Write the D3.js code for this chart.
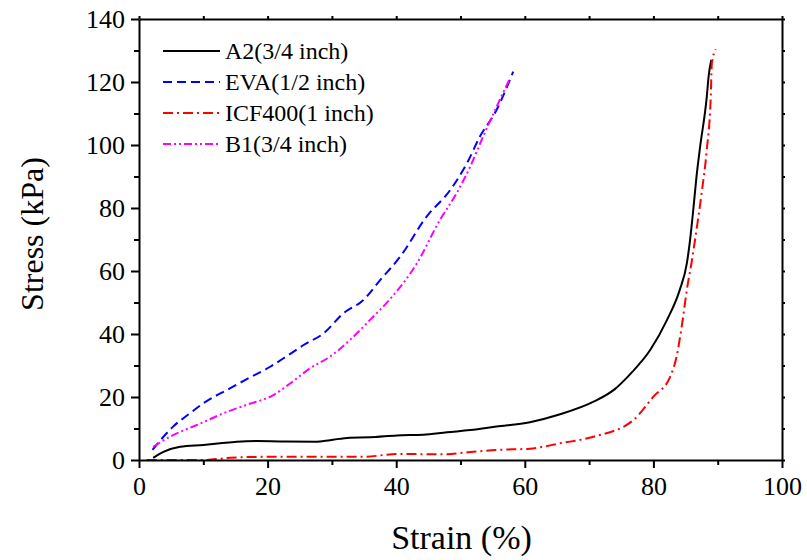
<!DOCTYPE html>
<html>
<head>
<meta charset="utf-8">
<script src="https://cdn.jsdelivr.net/npm/d3@7"></script>
<style>
  body { margin: 0; background: #fff; }
</style>
</head>
<body>
<div id="chart"></div>
<script>
// ---- data ----
const A2_STRAIN  = [2.2, 3.8, 6.4, 10, 12.6, 15.2, 18.3, 21.9, 27.6, 29.7, 32.8, 35.9, 40.1, 44.2, 47.9, 51.5, 55.6, 60.8, 65.5, 70.7, 74, 76.5, 79.5, 82.1, 84.1, 85.2, 85.7, 86.2, 86.7, 87.2, 88.3, 88.6, 89.0];
const A2_STRESS  = [0.7, 2.6, 4.2, 4.8, 5.3, 5.8, 6.0, 5.9, 5.8, 6.3, 7.1, 7.2, 7.8, 8.0, 8.8, 9.5, 10.6, 12.0, 14.5, 18.5, 22.5, 27.5, 34.9, 44.4, 54, 62.4, 69.8, 79.4, 89.9, 98.4, 115.3, 122, 127];

const EVA_STRAIN = [2.1, 5.3, 7.9, 10, 14.2, 16.7, 20.4, 23, 25.6, 28.7, 31.8, 34.9, 37.5, 40.6, 44.7, 48.4, 51, 53, 55.6, 58.2];
const EVA_STRESS = [3.2, 10.6, 14.8, 18, 22.8, 25.6, 29.6, 33, 36.5, 40.2, 46.6, 50.8, 57.1, 64.5, 77.2, 85.7, 94.2, 102.6, 111.1, 123.3];

const ICF_STRAIN = [1.2, 5, 10, 14.2, 19.3, 27, 34.9, 40.1, 47.9, 50.4, 55.6, 60.8, 65.5, 70.7, 76.9, 80, 82.6, 83.6, 84.4, 85.2, 86, 86.7, 87.5, 88.3, 88.9, 89.1, 89.7];
const ICF_STRESS = [0, 0, 0, 0.7, 1.0, 1.0, 1.0, 1.9, 1.8, 2.3, 3.2, 3.6, 5.3, 7.4, 12.7, 20.1, 26.4, 32.8, 42.3, 54, 63.5, 73, 84.7, 98.4, 114.3, 126, 130.4];

const B1_STRAIN  = [2.2, 5.3, 9, 13.1, 16.7, 20.9, 23.5, 26.6, 29.7, 32.8, 35.9, 39.1, 43.2, 46.8, 49.4, 51.5, 53.5, 56.1, 57.7];
const B1_STRESS  = [4.2, 7.9, 11.1, 14.8, 17.5, 20.6, 24.3, 29.1, 32.8, 38.1, 44.4, 51.2, 62.4, 76.2, 84.7, 93.1, 102.6, 114.3, 121.2];

const SERIES_NAMES  = ["A2(3/4 inch)", "EVA(1/2 inch)", "ICF400(1 inch)", "B1(3/4 inch)"];
const SERIES_COLORS = ["#000000", "#0000ff", "#ff0000", "#ff00ff"];
const SERIES_DASHES = [null, "9,5", "10,4,2,4", "8,3,2,3,2,3"];

const X_TICKS = [0, 20, 40, 60, 80, 100];
const Y_TICKS = [0, 20, 40, 60, 80, 100, 120, 140];
const X_LABEL = "Strain (%)";
const Y_LABEL = "Stress (kPa)";

const FONT = "'Liberation Serif', 'Times New Roman', 'DejaVu Serif', serif";

// ---- layout ----
const SVG_WIDTH = 807;
const SVG_HEIGHT = 560;
const X_LEFT = 139, X_RIGHT = 782, Y_TOP = 19, Y_BOTTOM = 460;

const svg = d3.select("#chart").append("svg")
  .attr("width", SVG_WIDTH)
  .attr("height", SVG_HEIGHT);

const xScale = d3.scaleLinear().domain([0, 100]).range([X_LEFT, X_RIGHT]);
const yScale = d3.scaleLinear().domain([0, 140]).range([Y_BOTTOM, Y_TOP]);

const series = [
  [A2_STRAIN, A2_STRESS],
  [EVA_STRAIN, EVA_STRESS],
  [ICF_STRAIN, ICF_STRESS],
  [B1_STRAIN, B1_STRESS]
].map(([xs, ys], i) => ({
  name: SERIES_NAMES[i],
  color: SERIES_COLORS[i],
  dash: SERIES_DASHES[i],
  values: xs.map((x, j) => ({ x: x, y: ys[j] }))
}));

const line = d3.line()
  .x(d => xScale(d.x))
  .y(d => yScale(d.y))
  .curve(d3.curveMonotoneX);

// curves
svg.append("g").selectAll("path")
  .data(series)
  .join("path")
  .attr("fill", "none")
  .attr("stroke", d => d.color)
  .attr("stroke-width", 2)
  .attr("stroke-dasharray", d => d.dash)
  .attr("d", d => line(d.values));

// axes (major + minor ticks, all outward)
function styleAxis(g) {
  g.attr("font-family", null);
  g.selectAll("path, line").attr("stroke", "#000").attr("stroke-width", 2);
  g.selectAll("text")
    .style("font-family", FONT)
    .style("font-size", "26px")
    .attr("fill", "#000");
}

const minorX = d3.range(10, 100, 20);
const minorY = d3.range(10, 140, 20);

const xAxis = svg.append("g")
  .attr("transform", `translate(0,${Y_BOTTOM})`)
  .call(d3.axisBottom(xScale).tickValues(X_TICKS).tickSize(8).tickPadding(7).tickSizeOuter(0));
styleAxis(xAxis);
xAxis.selectAll("text").attr("dy", "0.75em");

svg.append("g")
  .attr("transform", `translate(0,${Y_BOTTOM})`)
  .call(d3.axisBottom(xScale).tickValues(minorX).tickSize(5).tickFormat("").tickSizeOuter(0))
  .call(g => g.select(".domain").remove())
  .call(styleAxis);

const yAxis = svg.append("g")
  .attr("transform", `translate(${X_LEFT},0)`)
  .call(d3.axisLeft(yScale).tickValues(Y_TICKS).tickSize(8).tickPadding(6).tickSizeOuter(0));
styleAxis(yAxis);

svg.append("g")
  .attr("transform", `translate(${X_LEFT},0)`)
  .call(d3.axisLeft(yScale).tickValues(minorY).tickSize(5).tickFormat("").tickSizeOuter(0))
  .call(g => g.select(".domain").remove())
  .call(styleAxis);

// top and right frame with small outward ticks
svg.append("g")
  .attr("transform", `translate(0,${Y_TOP})`)
  .call(d3.axisTop(xScale).tickValues(d3.range(0, 101, 10)).tickSize(3).tickFormat("").tickSizeOuter(0))
  .call(styleAxis);

svg.append("g")
  .attr("transform", `translate(${X_RIGHT},0)`)
  .call(d3.axisRight(yScale).tickValues(d3.range(0, 141, 10)).tickSize(3).tickFormat("").tickSizeOuter(0))
  .call(styleAxis);

// axis titles
svg.append("text")
  .attr("x", (X_LEFT + X_RIGHT) / 2 + 1)
  .attr("y", 549)
  .attr("text-anchor", "middle")
  .style("font-family", FONT)
  .style("font-size", "34px")
  .text(X_LABEL);

svg.append("text")
  .attr("transform", "rotate(-90)")
  .attr("x", -234)
  .attr("y", 43)
  .attr("text-anchor", "middle")
  .style("font-family", FONT)
  .style("font-size", "32px")
  .text(Y_LABEL);

// legend
const legend = svg.append("g").attr("transform", "translate(163,51)");
const rows = legend.selectAll("g")
  .data(series)
  .join("g")
  .attr("transform", (d, i) => `translate(0,${i * 31})`);

rows.append("line")
  .attr("x1", 0).attr("x2", 57)
  .attr("stroke", d => d.color)
  .attr("stroke-width", 2)
  .attr("stroke-dasharray", d => d.dash);

rows.append("text")
  .attr("x", 62)
  .attr("dy", "0.35em")
  .style("font-family", FONT)
  .style("font-size", "24px")
  .text(d => d.name);
</script>
</body>
</html>
